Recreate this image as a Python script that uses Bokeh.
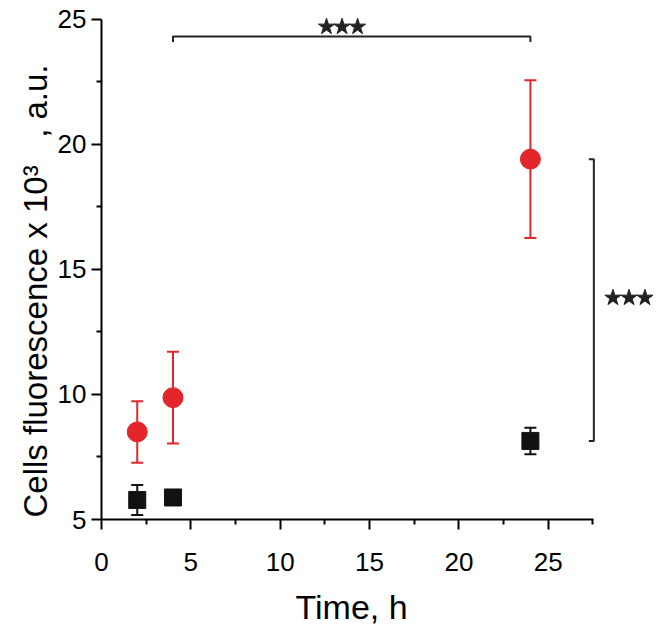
from bokeh.plotting import figure
from bokeh.models import (Range1d, Whisker, ColumnDataSource, FixedTicker, TeeHead, Title)
from bokeh.embed import file_html
from bokeh.resources import INLINE

# ---- data ----
time_h = [2, 4, 24]
treated_mean = [8.50, 9.87, 19.40]
treated_err = [1.23, 1.83, 3.15]
control_mean = [5.78, 5.88, 8.14]
control_err = [0.60, 0.20, 0.53]

x_ticks = [0, 5, 10, 15, 20, 25]
x_minor = [2.5, 7.5, 12.5, 17.5, 22.5, 27.5]
y_ticks = [5, 10, 15, 20, 25]
y_minor = [7.5, 12.5, 17.5, 22.5]

x_title = "Time, h"
y_title = "Cells fluorescence x 10³\u00a0\u00a0\u00a0, a.u."

# significance brackets (4 h vs 24 h on top, treated vs control on the right)
bracket_top_x = [4, 4, 24, 24]
bracket_top_y = [24.08, 24.3, 24.3, 24.08]
bracket_right_x = [27.27, 27.55, 27.55, 27.27]
bracket_right_y = [19.4, 19.4, 8.14, 8.14]
stars_top_x = [12.59, 13.46, 14.33]
stars_top_y = [24.69, 24.69, 24.69]
stars_right_x = [28.62, 29.52, 30.41]
stars_right_y = [13.86, 13.86, 13.86]

RED = "#e3262b"
BLACK = "#111111"
DARK = "#222222"
FONT = "Liberation Sans"

p = figure(width=658, height=637, output_backend="svg", toolbar_location=None,
           x_range=Range1d(0, 31.0), y_range=Range1d(5, 25.1),
           min_border_left=101, min_border_right=3, min_border_top=16,
           min_border_bottom=60)
p.outline_line_color = None
p.xgrid.visible = False
p.ygrid.visible = False
p.background_fill_color = "white"

for ax, ticks, minor, bounds in ((p.xaxis[0], x_ticks, x_minor, (0, 27.55)),
                                 (p.yaxis[0], y_ticks, y_minor, (5, 25))):
    ax.ticker = FixedTicker(ticks=ticks, minor_ticks=minor)
    ax.bounds = bounds
    ax.axis_line_width = 2
    ax.axis_line_color = "black"
    ax.major_tick_line_width = 2
    ax.minor_tick_line_width = 2
    ax.major_tick_line_color = "black"
    ax.minor_tick_line_color = "black"
    ax.major_tick_in = 0
    ax.major_tick_out = 10
    ax.minor_tick_in = 0
    ax.minor_tick_out = 5
    ax.major_label_text_font = FONT
    ax.major_label_text_font_size = "26px"
    ax.major_label_text_color = "black"
p.xaxis.major_label_standoff = 23
p.yaxis.major_label_standoff = 5

xt = Title(text=x_title, align="left", offset=194, standoff=24,
           text_font=FONT, text_font_size="34px", text_font_style="normal",
           text_color="black")
p.add_layout(xt, "below")

yt = Title(text=y_title, align="left", offset=2, standoff=2,
           text_font=FONT, text_font_size="33px", text_font_style="normal",
           text_color="black")
p.add_layout(yt, "left")

# error bars
tsrc = ColumnDataSource(dict(x=time_h, y=treated_mean,
                             lo=[m - e for m, e in zip(treated_mean, treated_err)],
                             hi=[m + e for m, e in zip(treated_mean, treated_err)]))
csrc = ColumnDataSource(dict(x=time_h, y=control_mean,
                             lo=[m - e for m, e in zip(control_mean, control_err)],
                             hi=[m + e for m, e in zip(control_mean, control_err)]))
for src, col in ((tsrc, RED), (csrc, BLACK)):
    w = Whisker(base="x", lower="lo", upper="hi", source=src,
                line_color=col, line_width=2,
                upper_head=TeeHead(size=12, line_color=col, line_width=2),
                lower_head=TeeHead(size=12, line_color=col, line_width=2))
    p.add_layout(w)

p.scatter("x", "y", source=tsrc, marker="circle", size=20,
          fill_color=RED, line_color=RED)
p.scatter("x", "y", source=csrc, marker="square", size=17,
          fill_color=BLACK, line_color=BLACK)

# brackets and stars
p.line(bracket_top_x, bracket_top_y, line_color=DARK, line_width=2)
p.line(bracket_right_x, bracket_right_y, line_color=DARK, line_width=2)
p.scatter(stars_top_x, stars_top_y, marker="star", size=17,
          fill_color=DARK, line_color=DARK)
p.scatter(stars_right_x, stars_right_y, marker="star", size=17,
          fill_color=DARK, line_color=DARK)

open("out.html", "w").write(file_html(p, INLINE))
